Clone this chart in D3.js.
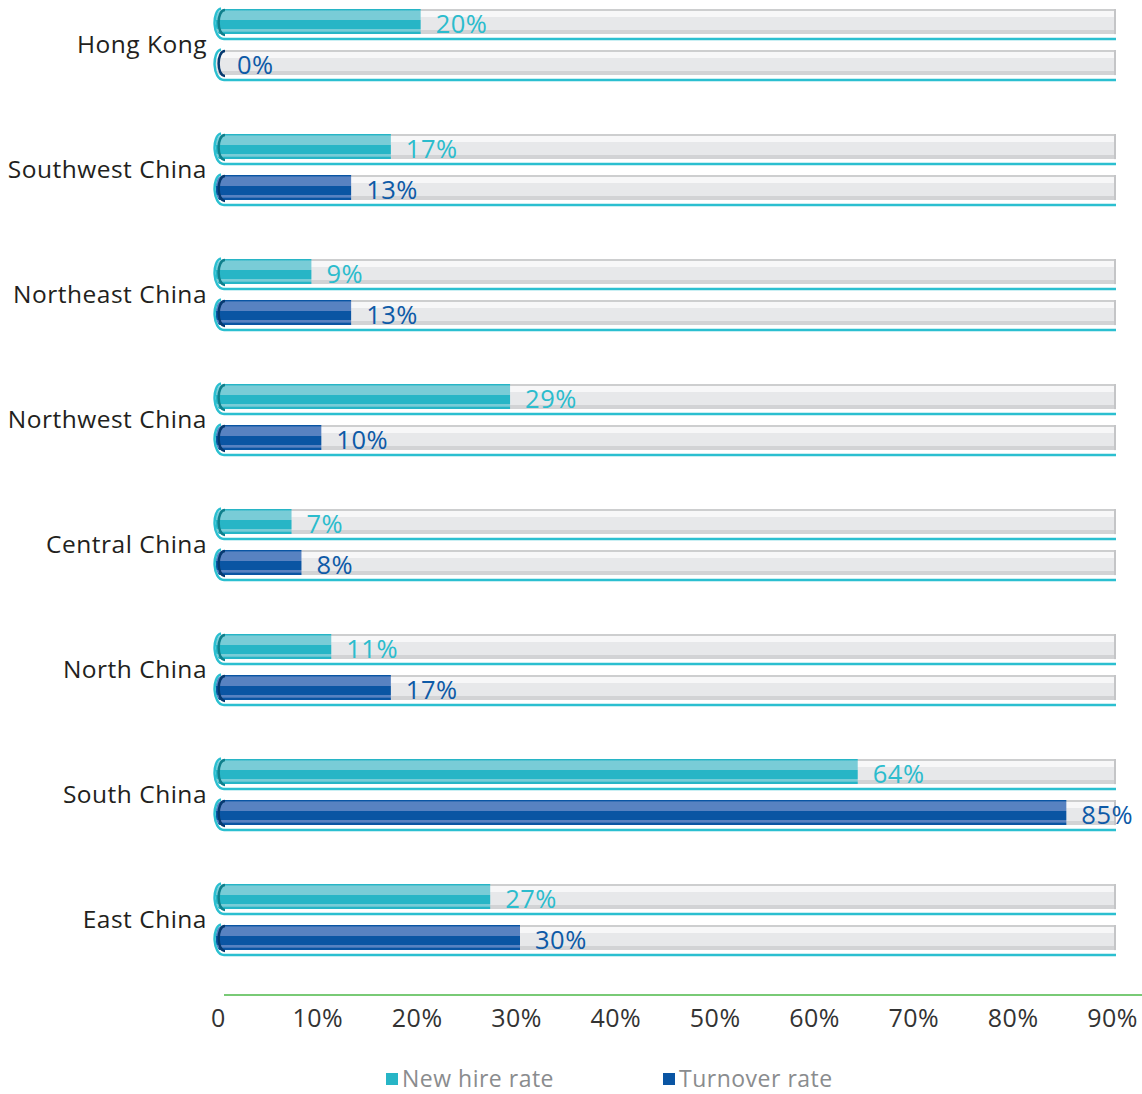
<!DOCTYPE html>
<html>
<head>
<meta charset="utf-8">
<script src="https://cdn.jsdelivr.net/npm/d3@7"></script>
<style>
  body { margin: 0; background: #fff; }
  svg text { font-family: "Open Sans", "Noto Sans", sans-serif; letter-spacing: 0.5px; }
</style>
</head>
<body>
<div id="chart"></div>
<script>
// data
const regions = ["Hong Kong", "Southwest China", "Northeast China", "Northwest China",
  "Central China", "North China", "South China", "East China"];
const newHire = [20, 17, 9, 29, 7, 11, 64, 27];
const turnover = [0, 13, 13, 10, 8, 17, 85, 30];
const seriesNames = ["New hire rate", "Turnover rate"];
const ticks = [0, 10, 20, 30, 40, 50, 60, 70, 80, 90];

const W = 1142, H = 1094;
const svg = d3.select("#chart").append("svg")
  .attr("width", W).attr("height", H);

const x = d3.scaleLinear().domain([0, 90]).range([222, 1116]);
const y = d3.scaleBand().domain(regions).range([-18.5, 981.5]);
const sub = d3.scaleBand().domain(seriesNames).range([-35, 33]).paddingInner(0.341);

const colors = {
  "New hire rate": { main: "#27b5c6", light: "#79ccd7", dark: "#0f7f8c", text: "#2bbccd" },
  "Turnover rate": { main: "#0a55a3", light: "#5882c1", dark: "#06396f", text: "#0d5aa7" }
};

// gradients
const defs = svg.append("defs");
function vgrad(id, stops) {
  const g = defs.append("linearGradient").attr("id", id)
    .attr("x1", 0).attr("y1", 0).attr("x2", 0).attr("y2", 1);
  stops.forEach(s => g.append("stop").attr("offset", s[0]).attr("stop-color", s[1]));
}
vgrad("track", [[0, "#cdcecf"], [0.07, "#cdcecf"], [0.08, "#f7f7f8"], [0.3, "#f7f7f8"], [0.31, "#e7e8ea"],
  [0.78, "#e7e8ea"], [0.79, "#d2d3d5"], [0.92, "#d2d3d5"], [0.93, "#ffffff"], [1, "#ffffff"]]);
seriesNames.forEach((s, i) => {
  const c = colors[s];
  vgrad("fill" + i, [[0, c.main], [0.05, c.main], [0.06, c.light], [0.4, c.light], [0.41, c.main],
    [0.74, c.main], [0.75, c.light], [0.83, c.light], [0.84, c.main], [0.93, c.main], [0.94, "#ffffff"], [1, "#ffffff"]]);
});

const rows = regions.map((r, i) => ({ region: r, values: [newHire[i], turnover[i]] }));

// category labels
svg.append("g").selectAll("text")
  .data(regions).enter().append("text")
  .attr("x", 207)
  .attr("y", d => y(d) + y.bandwidth() / 2)
  .attr("dy", "0.35em")
  .attr("text-anchor", "end")
  .attr("font-size", 24.5)
  .attr("letter-spacing", "0.3px")
  .attr("fill", "#231f20")
  .text(d => d);

const group = svg.append("g").selectAll("g")
  .data(rows).enter().append("g")
  .attr("transform", d => "translate(0," + (y(d.region) + y.bandwidth() / 2) + ")");

const bars = group.selectAll("g.bar")
  .data(d => d.values.map((v, i) => ({ series: seriesNames[i], idx: i, value: v })))
  .enter().append("g")
  .attr("class", "bar")
  .attr("transform", d => "translate(0," + sub(d.series) + ")");

const h = sub.bandwidth();
const x0 = x(0) - 6;
const r = 9;
// bar shape with rounded left end
function leftRound(xe) {
  return `M${x0 + r},0 H${xe} V${h} H${x0 + r} A${r} ${r} 0 0 1 ${x0},${h - r} V${r} A${r} ${r} 0 0 1 ${x0 + r},0 Z`;
}

// background track
bars.append("path")
  .attr("d", leftRound(x(90)))
  .attr("fill", "url(#track)");
bars.append("rect")
  .attr("x", x(90) - 2).attr("y", 0)
  .attr("width", 2).attr("height", h * 0.93)
  .attr("fill", "#c4c5c7");

// value fill
bars.filter(d => d.value > 0).append("path")
  .attr("d", d => leftRound(x(d.value)))
  .attr("fill", d => "url(#fill" + d.idx + ")");

// left cap shading
bars.append("path")
  .attr("d", `M${x0 + 9},1 C${x0 + 0.5},1 ${x0 + 0.5},${h - 1} ${x0 + 9},${h - 1}`)
  .attr("fill", "none")
  .attr("stroke", d => colors[d.series].dark)
  .attr("stroke-width", 2.5);

// cyan underline with rounded left end
bars.append("path")
  .attr("d", `M${x0 + 5},-0.5 C${x0 - 4},1 ${x0 - 4},${h + 3} ${x0 + 8},${h + 3} L${x(90)},${h + 3}`)
  .attr("fill", "none")
  .attr("stroke", "#2bbfd0")
  .attr("stroke-width", 2.5);

// value labels
bars.append("text")
  .attr("x", d => x(d.value) + 15)
  .attr("y", h / 2 + 1)
  .attr("dy", "0.36em")
  .attr("font-size", 25.5)
  .attr("fill", d => colors[d.series].text)
  .text(d => d.value + "%");

// axis
svg.append("line")
  .attr("x1", 224).attr("x2", W)
  .attr("y1", 995).attr("y2", 995)
  .attr("stroke", "#4db848").attr("stroke-width", 1.5);

const axis = svg.append("g")
  .attr("transform", "translate(-4,1006)")
  .call(d3.axisBottom(x).tickValues(ticks).tickSize(0)
    .tickFormat(d => d === 0 ? "0" : d + "%"));
axis.select(".domain").remove();
axis.selectAll("text")
  .attr("font-size", 25)
  .attr("fill", "#333")
  .attr("font-family", "\"Open Sans\", \"Noto Sans\", sans-serif");

// legend
const legendX = [386, 663];
const legend = svg.append("g").selectAll("g")
  .data(seriesNames).enter().append("g")
  .attr("transform", (d, i) => "translate(" + legendX[i] + ",1079)");
legend.append("rect")
  .attr("x", 0).attr("y", -6).attr("width", 12).attr("height", 12)
  .attr("fill", d => colors[d].main);
legend.append("text")
  .attr("x", 16).attr("dy", "0.36em")
  .attr("font-size", 23)
  .attr("letter-spacing", "0.2px")
  .attr("fill", "#8a8c8e")
  .text(d => d);
</script>
</body>
</html>
